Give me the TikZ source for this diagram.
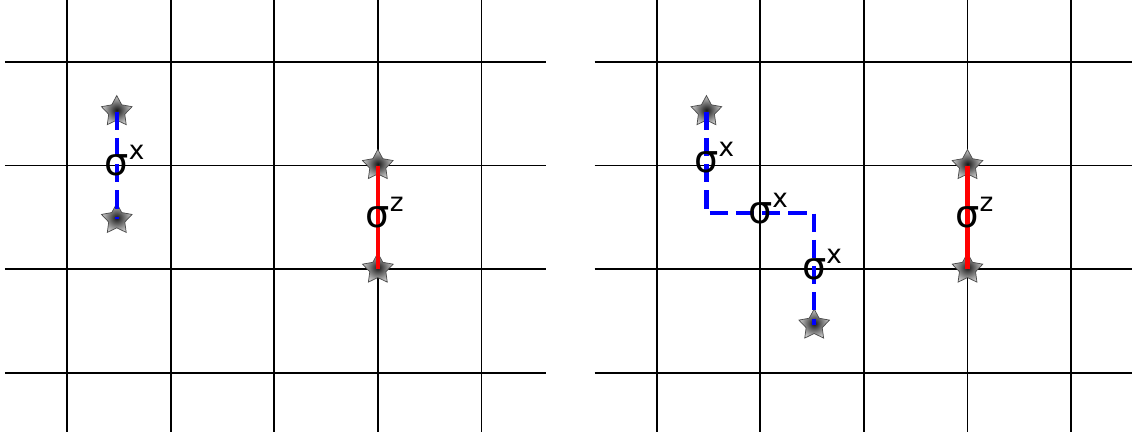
\documentclass[tikz,border=0pt]{standalone}
\usepackage{fontspec}
\setmainfont{DejaVu Sans}
\usetikzlibrary{shapes.geometric}

% sigma with a superscript that does not widen the node
\newcommand{\pauli}[1]{{\fontsize{10.5}{12}\selectfont σ}\rlap{\smash{\raisebox{4.4pt}{\fontsize{7.2}{8}\selectfont #1}}}}

\begin{document}
\begin{tikzpicture}[
    gridline/.style={line width=0.5pt, black},
    anyon/.style={star, star points=5, star point ratio=1.9, minimum size=0.31cm,
                  inner sep=0pt, draw=gray!60!black, line width=0.2pt,
                  shading=radial, inner color=black!90, outer color=gray!40},
    xstring/.style={blue, line width=1.2pt, dash pattern=on 5pt off 2.2pt},
    zstring/.style={red, line width=1.2pt},
    oplabel/.style={inner sep=0pt}]

\useasboundingbox (0,0) rectangle (10.927,4.170);

% Left lattice -- one short sigma^x string and one sigma^z string
\begin{scope}[shift={(0.647,0.572)}]
  \foreach \i in {0,...,4} \draw [gridline] (\i,-0.6) -- (\i,3.6);
  \foreach \j in {0,...,3} \draw [gridline] (-0.6,\j) -- (4.62,\j);

  \node (xa1) [anyon] at (0.48,2.52) {};
  \node (xa2) [anyon] at (0.48,1.48) {};
  \node (za1) [anyon] at (3,2) {};
  \node (za2) [anyon] at (3,1) {};

  \draw [xstring] (xa1.center) -- (xa2.center);
  \draw [zstring] (za1.center) -- (za2.center);

  \node (lx1) [oplabel] at (0.48,2) {\pauli{x}};
  \node (lz1) [oplabel] at (3,1.5)  {\pauli{z}};
\end{scope}

% Right lattice -- the sigma^x string stretched over three links
\begin{scope}[shift={(6.339,0.572)}]
  \foreach \i in {0,...,4} \draw [gridline] (\i,-0.6) -- (\i,3.6);
  \foreach \j in {0,...,3} \draw [gridline] (-0.6,\j) -- (4.6,\j);

  \node (xb1) [anyon] at (0.48,2.52) {};
  \node (xb2) [anyon] at (1.52,0.46) {};
  \node (zb1) [anyon] at (3,2) {};
  \node (zb2) [anyon] at (3,1) {};
  \coordinate (kb1) at (0.48,1.54);
  \coordinate (kb2) at (1.52,1.54);

  \draw [xstring] (xb1.center) -- (kb1) -- (kb2) -- (xb2.center);
  \draw [zstring] (zb1.center) -- (zb2.center);

  \node (rx1) [oplabel] at (0.48,2.03) {\pauli{x}};
  \node (rx2) [oplabel] at (1,1.54)    {\pauli{x}};
  \node (rx3) [oplabel] at (1.52,1)    {\pauli{x}};
  \node (rz1) [oplabel] at (3,1.5)     {\pauli{z}};
\end{scope}

\end{tikzpicture}
\end{document}
